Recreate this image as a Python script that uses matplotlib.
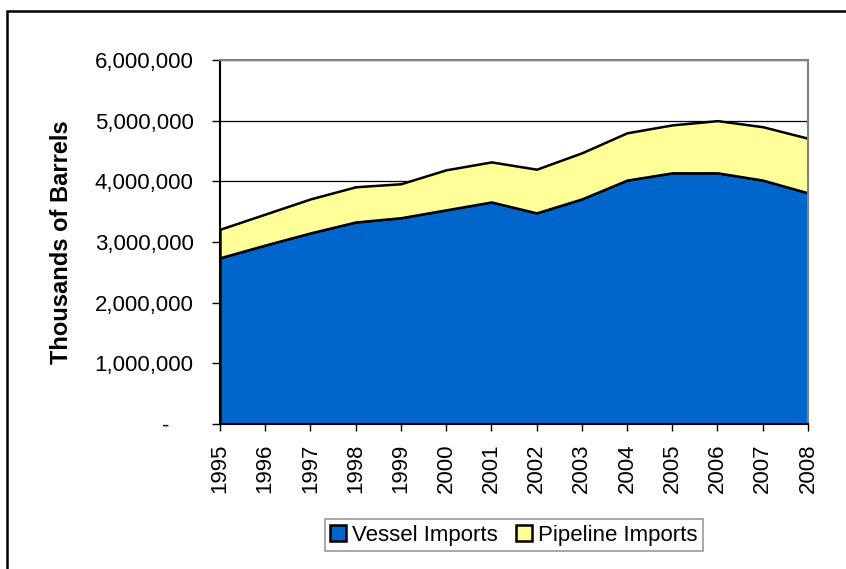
from matplotlib import pyplot as plt
from matplotlib.patches import Rectangle
import matplotlib.ticker as mtick

plt.rcParams['font.family'] = ['Liberation Sans', 'DejaVu Sans']

# 数据 (千桶)
years = [1995, 1996, 1997, 1998, 1999, 2000, 2001, 2002, 2003, 2004, 2005, 2006, 2007, 2008]
vessel = [2740000, 2950000, 3150000, 3330000, 3400000, 3530000, 3660000, 3480000,
          3710000, 4020000, 4140000, 4140000, 4020000, 3810000]
pipeline = [470000, 510000, 560000, 580000, 560000, 660000, 660000, 720000,
            760000, 780000, 790000, 860000, 880000, 900000]
total = [v + p for v, p in zip(vessel, pipeline)]

fig = plt.figure(figsize=(8.46, 5.69), dpi=100)
ax = fig.add_axes([0.260, 0.2548, 0.695, 0.6398])

# 外框 (只看得到左边和上边)
top = 1 - 11 / 569
fig.patches.append(Rectangle((7 / 846, -0.5), 2.0, top + 0.5,
                             transform=fig.transFigure, fill=False,
                             edgecolor='black', linewidth=1.8))

ax.fill_between(years, 0, vessel, facecolor='#0066CC', edgecolor='black',
                linewidth=1.8, label='Vessel Imports', zorder=2)
ax.fill_between(years, vessel, total, facecolor='#FFFF99', edgecolor='black',
                linewidth=1.8, label='Pipeline Imports', zorder=2)

ax.set_xlim(1995, 2008)
ax.set_ylim(0, 6000000)
ax.set_xticks(years)
ax.set_xticklabels([str(y) for y in years], rotation=90, fontsize=16)
ax.set_yticks(range(0, 6000001, 1000000))


def fmt(v, pos):
    # Excel 会计格式, 0 显示为 "-"
    return '-    ' if v == 0 else f'{int(v):,}'


ax.yaxis.set_major_formatter(mtick.FuncFormatter(fmt))
ax.tick_params(axis='y', labelsize=16, length=6, width=1, pad=13)
ax.tick_params(axis='x', length=5, width=1, pad=9)
ax.grid(axis='y', color='black', linewidth=0.9, zorder=1)
ax.set_axisbelow(True)

ax.spines['left'].set_color('black')
ax.spines['bottom'].set_color('black')
ax.spines['left'].set_linewidth(1.5)
ax.spines['bottom'].set_linewidth(1.5)
ax.spines['top'].set_color('#808080')
ax.spines['right'].set_color('#808080')
ax.spines['top'].set_linewidth(1.5)
ax.spines['right'].set_linewidth(1.5)
for s in ax.spines.values():
    s.set_zorder(3)

ax.set_ylabel('Thousands of Barrels', fontsize=17, fontweight='bold')
ax.yaxis.set_label_coords((73 - 220) / 588, 0.5)

leg = fig.legend(loc='center', bbox_to_anchor=(514 / 846, 1 - 535 / 569),
                 ncol=2, fontsize=16, frameon=True, fancybox=False,
                 handlelength=0.7, handleheight=0.7, handletextpad=0.3,
                 columnspacing=0.8, borderpad=0.25, borderaxespad=0)
leg.get_frame().set_edgecolor('#808080')
leg.get_frame().set_linewidth(1.2)
for h in leg.legend_handles:
    h.set_linewidth(1.8)

plt.savefig('out.png', dpi=100)
